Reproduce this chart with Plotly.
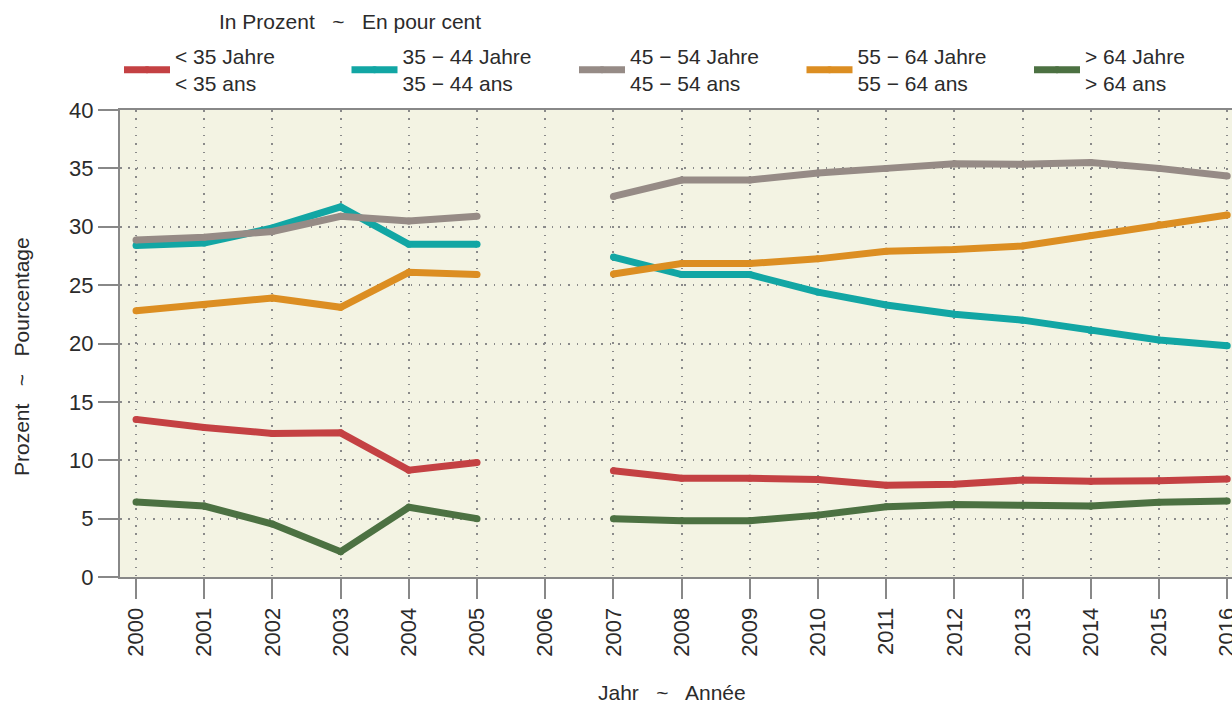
import plotly.graph_objects as go

years = [str(y) for y in range(2000, 2017)]

under35 = [13.5, 12.8, 12.3, 12.35, 9.15, 9.8, None, 9.1, 8.45, 8.45, 8.35, 7.85, 7.95, 8.3, 8.2, 8.25, 8.4]
age35_44 = [28.4, 28.6, 29.9, 31.7, 28.5, 28.5, None, 27.4, 25.9, 25.9, 24.4, 23.3, 22.5, 22.0, 21.1, 20.3, 19.8]
age45_54 = [28.87, 29.1, 29.6, 30.9, 30.5, 30.9, None, 32.6, 34.0, 34.0, 34.6, 35.0, 35.4, 35.35, 35.5, 35.0, 34.35]
age55_64 = [22.8, 23.3, 23.9, 23.1, 26.1, 25.9, None, 25.95, 26.85, 26.85, 27.25, 27.9, 28.05, 28.35, 29.25, 30.2, 31.0]
over64 = [6.42, 6.08, 4.54, 2.17, 5.97, 5.0, None, 5.0, 4.82, 4.82, 5.3, 6.02, 6.2, 6.14, 6.08, 6.4, 6.5]

series_names = [
    "&lt; 35 Jahre<br>&lt; 35 ans",
    "35 − 44 Jahre<br>35 − 44 ans",
    "45 − 54 Jahre<br>45 − 54 ans",
    "55 − 64 Jahre<br>55 − 64 ans",
    "&gt; 64 Jahre<br>&gt; 64 ans",
]
series_values = [under35, age35_44, age45_54, age55_64, over64]
series_colors = ["#c44143", "#12a6a4", "#968b86", "#dc8e22", "#4c7142"]

y_ticks = [0, 5, 10, 15, 20, 25, 30, 35, 40]

FONT = "Liberation Sans, Arial, sans-serif"
TXT = "#2b2b2b"

W, H = 1232, 702
ML, MR, MT, MB = 120, 0, 110, 125
plot_w = W - ML - MR

fig = go.Figure()
legend_ids = ["legend", "legend2", "legend3", "legend4", "legend5"]
for name, vals, col, lid in zip(series_names, series_values, series_colors, legend_ids):
    fig.add_trace(go.Scatter(
        x=years, y=vals, name=name, mode="lines+markers",
        line=dict(color=col, width=7),
        marker=dict(color=col, size=7, line=dict(width=0)),
        connectgaps=False,
        legend=lid,
    ))

legend_layout = {}
for i, lid in enumerate(legend_ids):
    px = 119 + i * 227.5
    legend_layout[lid] = dict(
        orientation="h",
        x=(px - ML) / plot_w, xanchor="left",
        y=1.086, yanchor="middle",
        itemwidth=46,
        font=dict(family=FONT, size=21, color=TXT),
        valign="middle",
        bgcolor="rgba(0,0,0,0)",
    )

fig.update_layout(
    width=W, height=H,
    margin=dict(l=ML, r=MR, t=MT, b=MB),
    paper_bgcolor="white",
    plot_bgcolor="#f3f3e3",
    font=dict(family=FONT, size=21, color=TXT),
    showlegend=True,
    **legend_layout,
    xaxis=dict(
        type="category",
        categoryorder="array", categoryarray=years,
        range=[-0.235, 16.07],
        automargin=False,
        showline=True, linecolor="#888888", linewidth=2, mirror=True,
        ticks="outside", ticklen=20, tickwidth=2, tickcolor="#888888",
        tickangle=-90,
        tickfont=dict(family=FONT, size=22, color=TXT),
        showgrid=True, gridcolor="#8a8a8a", gridwidth=1.5, griddash="1.5px,6.8px",
        zeroline=False,
    ),
    yaxis=dict(
        range=[0, 40],
        tickvals=y_ticks,
        automargin=False,
        showline=True, linecolor="#888888", linewidth=2, mirror=True,
        ticks="outside", ticklen=20, tickwidth=2, tickcolor="#888888",
        tickfont=dict(family=FONT, size=22, color=TXT),
        showgrid=True, gridcolor="#8a8a8a", gridwidth=1.5, griddash="1.5px,6.8px",
        zeroline=False,
    ),
    annotations=[
        dict(text="In Prozent   ~   En pour cent", xref="paper", yref="paper",
             x=(350 - ML) / plot_w, y=1.19, xanchor="center", yanchor="middle", showarrow=False,
             font=dict(family=FONT, size=21, color=TXT)),
        dict(text="Prozent   ~   Pourcentage", xref="paper", yref="paper",
             x=(21 - ML) / plot_w, y=0.471, xanchor="center", yanchor="middle", showarrow=False,
             textangle=-90, font=dict(family=FONT, size=21, color=TXT)),
        dict(text="Jahr   ~   Année", xref="paper", yref="paper",
             x=(672 - ML) / plot_w, y=-0.248, xanchor="center", yanchor="middle", showarrow=False,
             font=dict(family=FONT, size=21, color=TXT)),
    ],
)

fig.write_html(
    "out.html",
    config={"displayModeBar": False},
    post_script="document.body.style.margin='0';document.body.style.overflow='hidden';",
)
